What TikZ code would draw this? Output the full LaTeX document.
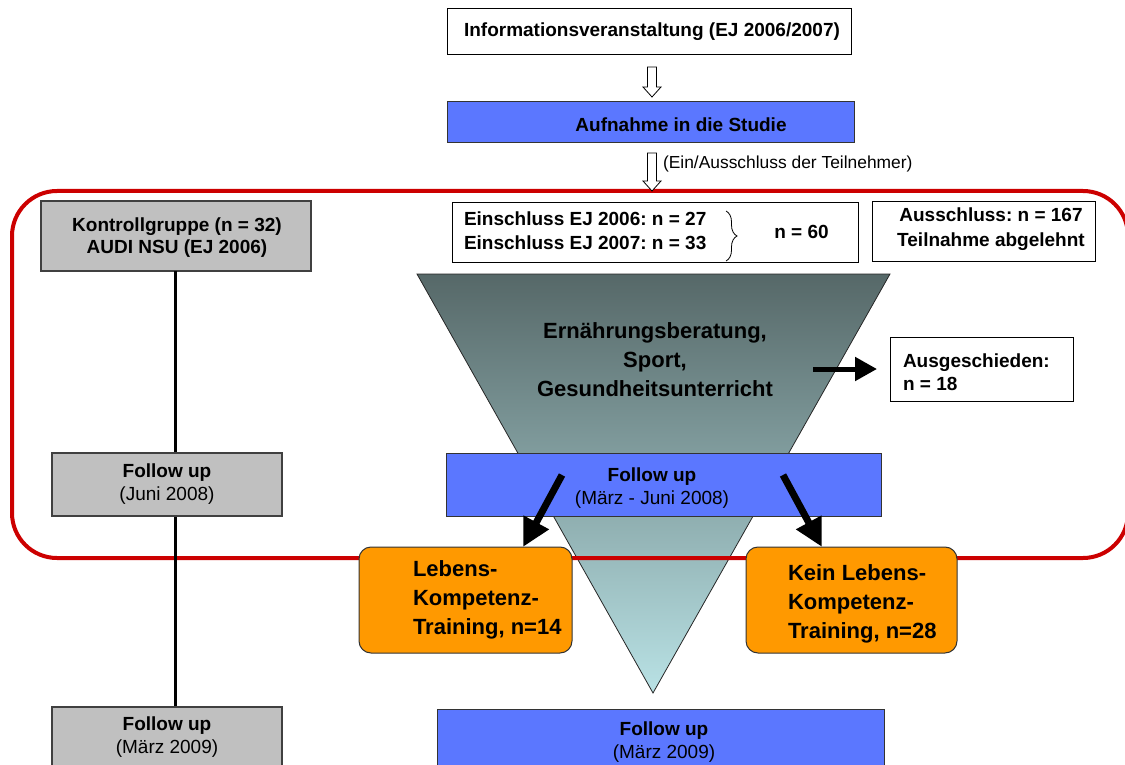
\documentclass[tikz,border=0pt]{standalone}
\usepackage{fontspec}
\setmainfont{Liberation Sans}
\usetikzlibrary{arrows.meta,calc,decorations.pathreplacing}
\definecolor{ublue}{HTML}{5B77FF}
\definecolor{ugray}{HTML}{C0C0C0}
\definecolor{uorange}{HTML}{FF9900}
\definecolor{ured}{HTML}{CC0000}
\definecolor{funtop}{HTML}{566868}
\definecolor{funbot}{HTML}{B9E2E5}
\newcommand{\holarrow}[2]{%
  \draw[line width=0.8pt, fill=white]
    ($(#1)+(-4.5,0)$) -- ($(#2)+(-4.5,-10)$) -- ($(#2)+(-9,-10)$) -- (#2)
    -- ($(#2)+(9,-10)$) -- ($(#2)+(4.5,-10)$) -- ($(#1)+(4.5,0)$) -- cycle;}
\begin{document}
\frenchspacing
\begin{tikzpicture}[x=1pt,y=-1pt,
  every node/.style={inner sep=0pt, outer sep=0pt},
  whitebox/.style={draw=black, line width=1pt, fill=white},
  bluebox/.style={draw=black!80, line width=1pt, fill=ublue},
  graybox/.style={draw=black!75, line width=1.2pt, fill=ugray},
  orangebox/.style={draw=black!80, line width=1pt, fill=uorange, rounded corners=12pt},
  bt/.style={font=\bfseries\fontsize{19}{23}\selectfont, align=center},
  rt/.style={font=\fontsize{19}{23}\selectfont, align=center},
  ot/.style={font=\bfseries\fontsize{22}{29}\selectfont, align=left, anchor=west},
  ft/.style={font=\bfseries\fontsize{22}{29}\selectfont, align=center, text=black},
  bigarrow/.style={line width=7pt, -{Triangle[length=28pt,width=27pt]}},
  midarrow/.style={line width=5pt, -{Triangle[length=22pt,width=23pt]}},
]
\clip (0,0) rectangle (1125,765);

% funnel
\shade[top color=funtop, bottom color=funbot] (417,274) -- (890,274) -- (653,693) -- cycle;
\draw[line width=0.8pt, black!85] (417,274) -- (890,274) -- (653,693) -- cycle;

% red group frame
\draw[ured, line width=4pt, rounded corners=45pt] (12,191) rectangle (1128,558);

% top boxes
\node[whitebox, minimum width=404pt, minimum height=46pt, bt] (info) at (649,32)
  {\hspace*{6pt}Informationsveranstaltung (EJ 2006/2007)};
\node[bluebox, minimum width=407pt, minimum height=41pt] (aufn) at (650.5,122.5) {};
\node[bt] (aufnt) at (681,124.5) {Aufnahme in die Studie};

\coordinate (h1t) at ($(info.south)+(3,12)$);
\coordinate (h1b) at ($(aufn.north)+(1.5,-5)$);
\holarrow{h1t}{h1b}
\coordinate (h2t) at ($(aufn.south)+(1.5,10)$);
\coordinate (h2b) at (652,191);
\holarrow{h2t}{h2b}
\node[font=\fontsize{17.4}{20}\selectfont, anchor=west] (einaus) at (663,164)
  {(Ein/Ausschluss der Teilnehmer)};

% control group
\node[graybox, minimum width=270pt, minimum height=70pt] (kontr) at (176,236) {};
\node[font=\bfseries\fontsize{19}{21.3}\selectfont, align=center] (kontrt) at (177,237.5)
  {Kontrollgruppe (n = 32)\\AUDI NSU (EJ 2006)};

% inclusion / exclusion
\node[whitebox, minimum width=406pt, minimum height=60pt] (einschl) at (655,232) {};
\node[font=\bfseries\fontsize{19}{24.4}\selectfont, align=left, anchor=west] (einschlt) at (464,231)
  {Einschluss EJ 2006: n = 27\\Einschluss EJ 2007: n = 33};
\draw[line width=0.8pt, decorate, decoration={brace, amplitude=11pt}] (726,211) -- (726,261);
\node[bt] (n60) at (801.5,232) {n = 60};
\node[whitebox, minimum width=223pt, minimum height=60pt] (aussch) at (983.5,231) {};
\node[font=\bfseries\fontsize{19}{25}\selectfont, align=center] (ausscht) at (991,229.5)
  {Ausschluss: n = 167\\Teilnahme abgelehnt};

% funnel text and dropout
\node[ft] (fun) at (655,360) {Ernährungsberatung,\\Sport,\\Gesundheitsunterricht};
\node[whitebox, minimum width=183pt, minimum height=64pt] (ausg) at (981.5,369) {};
\node[font=\bfseries\fontsize{19}{23}\selectfont, align=left, anchor=west] (ausgt) at (903,372)
  {Ausgeschieden:\\n = 18};
\coordinate (a1s) at (813,369);
\draw[midarrow] (a1s) -- ($(ausg.west)+(-13,0)$);

% vertical control line
\draw[line width=3pt] (kontr.south -| 175,0) -- (175,707);

% follow up 1
\node[graybox, minimum width=230pt, minimum height=63pt, rt] (fu1l) at (167,484.5)
  {\textbf{Follow up}\\(Juni 2008)};
\node[bluebox, minimum width=435pt, minimum height=63pt] (fu1m) at (663.5,484.5) {};
\node[rt] (fu1mt) at (652,488.5) {\textbf{Follow up}\\(März - Juni 2008)};

% life skills boxes
\node[orangebox, minimum width=213pt, minimum height=106pt] (lkt) at (465.5,600) {};
\node[ot] (lktt) at (413,600) {Lebens-\\Kompetenz-\\Training, n=14};
\node[orangebox, minimum width=211pt, minimum height=106pt] (klkt) at (851.5,600) {};
\node[ot] (klktt) at (788,604) {Kein Lebens-\\Kompetenz-\\Training, n=28};

\coordinate (a2s) at (562,475);
\draw[bigarrow] (a2s) -- ($(lkt.north west)+(164,0)$);
\coordinate (a3s) at (783,475);
\draw[bigarrow] (a3s) -- ($(klkt.north west)+(76,0)$);

% follow up 2
\node[graybox, minimum width=230pt, minimum height=60pt, rt] (fu2l) at (167,737)
  {\textbf{Follow up}\\(März 2009)};
\node[bluebox, minimum width=447pt, minimum height=66pt] (fu2m) at (660.5,742) {};
\node[rt] (fu2mt) at (664,742) {\textbf{Follow up}\\(März 2009)};
\end{tikzpicture}
\end{document}
